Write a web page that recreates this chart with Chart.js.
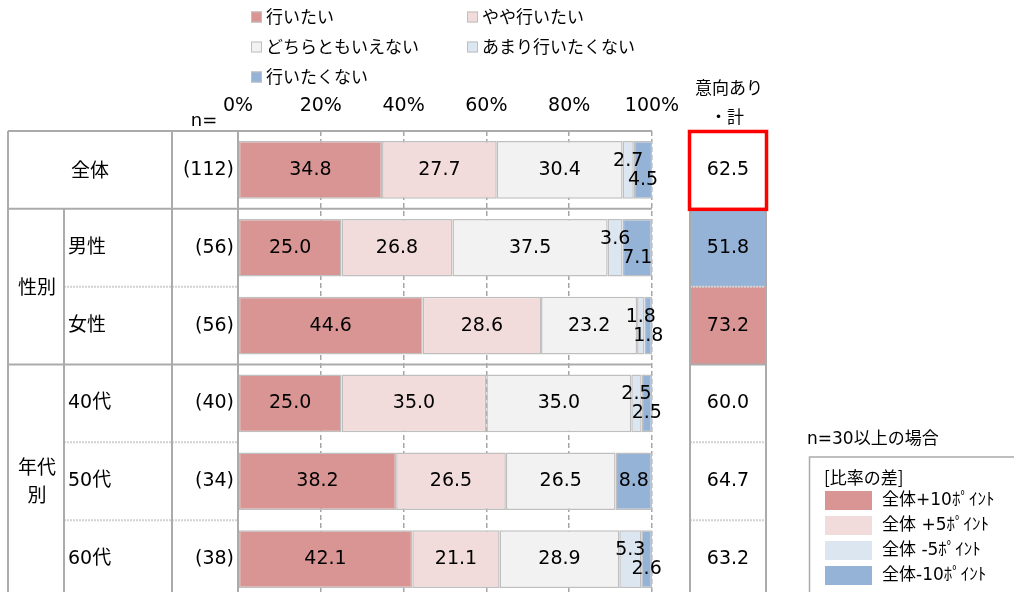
<!DOCTYPE html>
<html lang="ja">
<head>
  <meta charset="UTF-8" />
  <title>意向</title>
  <script src="https://cdn.jsdelivr.net/npm/chart.js"></script>
  <style>
    body { margin: 0; background: #fff; overflow: hidden; }
    #wrap { width: 1014px; height: 600px; }
  </style>
</head>
<body>
  <div id="wrap"><canvas id="chart" width="1014" height="600"></canvas></div>

  <script>
    // data
    const categories = ['全体', '男性', '女性', '40代', '50代', '60代'];
    const groups = [
      { label: ['性別'], from: 1, to: 2 },
      { label: ['年代', '別'], from: 3, to: 5 }
    ];
    const nCounts = [112, 56, 56, 40, 34, 38];
    const seriesNames = ['行いたい', 'やや行いたい', 'どちらともいえない', 'あまり行いたくない', '行いたくない'];
    const wantTo       = [34.8, 25.0, 44.6, 25.0, 38.2, 42.1];
    const somewhatWant = [27.7, 26.8, 28.6, 35.0, 26.5, 21.1];
    const neutral      = [30.4, 37.5, 23.2, 35.0, 26.5, 28.9];
    const notReally    = [2.7, 3.6, 1.8, 2.5, 0, 5.3];
    const notWant      = [4.5, 7.1, 1.8, 2.5, 8.8, 2.6];
    const intentTotal  = [62.5, 51.8, 73.2, 60.0, 64.7, 63.2];
    const tickValues = [0, 20, 40, 60, 80, 100];
    const diffLabels = ['全体+10ﾎﾟｲﾝﾄ', '全体 +5ﾎﾟｲﾝﾄ', '全体 -5ﾎﾟｲﾝﾄ', '全体-10ﾎﾟｲﾝﾄ'];

    // styles
    const seriesColors = ['#D99594', '#F2DCDB', '#F2F2F2', '#DCE6F1', '#95B3D7'];
    const diffColors = ['#D99594', '#F2DCDB', '#DCE6F1', '#95B3D7'];
    const NUM_FONT = '"DejaVu Sans", "Noto Sans CJK JP", sans-serif';
    const JP_FONT = '"Noto Sans CJK JP", sans-serif';
    const LINE = '#ABABAB';
    const LIGHT_LINE = '#D2D2D2';

    const seriesValues = [wantTo, somewhatWant, neutral, notReally, notWant];

    function cellColor(i) {
      if (i === 0 || nCounts[i] < 30) return '#FFFFFF';
      const d = intentTotal[i] - intentTotal[0];
      if (d >= 10) return diffColors[0];
      if (d >= 5) return diffColors[1];
      if (d <= -10) return diffColors[3];
      if (d <= -5) return diffColors[2];
      return '#FFFFFF';
    }

    function line(ctx, x1, y1, x2, y2, color, width, dash) {
      ctx.save();
      ctx.strokeStyle = color;
      ctx.lineWidth = width;
      ctx.setLineDash(dash || []);
      ctx.beginPath();
      ctx.moveTo(x1, y1);
      ctx.lineTo(x2, y2);
      ctx.stroke();
      ctx.restore();
    }

    function text(ctx, str, x, y, font, align) {
      ctx.font = font;
      ctx.fillStyle = '#000';
      ctx.textAlign = align || 'left';
      ctx.textBaseline = 'middle';
      ctx.fillText(str, x, y);
    }

    const valueLabels = {
      id: 'valueLabels',
      afterDatasetsDraw(chart) {
        const ctx = chart.ctx;
        ctx.save();
        chart.data.datasets.forEach((ds, k) => {
          chart.getDatasetMeta(k).data.forEach((bar, i) => {
            const v = ds.data[i];
            if (!v) return;
            const p = bar.getProps(['x', 'y', 'base'], true);
            let dy = 0;
            if (k === 3) dy = -9;
            if (k === 4 && notReally[i] > 0) dy = 10;
            text(ctx, v.toFixed(1), (p.x + p.base) / 2, p.y + dy, '19px ' + NUM_FONT, 'center');
          });
        });
        ctx.restore();
      }
    };

    const tableDecor = {
      id: 'tableDecor',
      afterDraw(chart) {
        const ctx = chart.ctx;
        const ys = chart.scales.y;
        const area = chart.chartArea;
        const rowH = ys.getPixelForValue(1) - ys.getPixelForValue(0);
        const top = i => ys.getPixelForValue(i) - rowH / 2;
        const mid = i => ys.getPixelForValue(i);
        const bottom = chart.height + 10;
        ctx.save();

        // top legend
        seriesNames.forEach((name, k) => {
          const x = k % 2 === 0 ? 251 : 467;
          const y = [17, 47, 77][Math.floor(k / 2)];
          ctx.fillStyle = seriesColors[k];
          ctx.fillRect(x, y - 5.5, 11, 11);
          ctx.strokeStyle = '#BFBFBF';
          ctx.lineWidth = 1;
          ctx.strokeRect(x + 0.5, y - 5, 10, 10);
          text(ctx, name, x + 15, y, '17px ' + JP_FONT);
        });

        // headers
        text(ctx, 'n=', 204, 121, '18px ' + NUM_FONT, 'center');
        text(ctx, '意向あり', 729, 88, '17px ' + JP_FONT, 'center');
        text(ctx, '・計', 727, 117, '17px ' + JP_FONT, 'center');

        // left table lines
        line(ctx, 8, area.top, area.right, area.top, LINE, 2);
        line(ctx, 8, top(1), area.right, top(1), LINE, 2);
        line(ctx, 8, top(3), area.right, top(3), LINE, 2);
        [2, 4, 5].forEach(i => line(ctx, 64, top(i), 172, top(i), LIGHT_LINE, 2, [2, 1]));
        [2, 4, 5].forEach(i => line(ctx, 172, top(i), area.left, top(i), LIGHT_LINE, 2, [2, 1]));
        line(ctx, 8, area.top, 8, bottom, LINE, 2);
        line(ctx, 64, top(1), 64, bottom, LINE, 2);
        line(ctx, 172, area.top, 172, bottom, LINE, 2);
        line(ctx, area.left, area.top, area.left, bottom, LINE, 2);

        // row labels
        text(ctx, categories[0], 90, mid(0), '19px ' + JP_FONT, 'center');
        for (let i = 1; i < categories.length; i++) {
          text(ctx, categories[i], 68, mid(i), '19px ' + NUM_FONT);
        }
        groups.forEach(g => {
          const c = (top(g.from) + top(g.to + 1)) / 2;
          g.label.forEach((s, j) => {
            text(ctx, s, 37, c + (j - (g.label.length - 1) / 2) * 28, '19px ' + JP_FONT, 'center');
          });
        });
        nCounts.forEach((n, i) => text(ctx, '(' + n + ')', 234, mid(i), '19px ' + NUM_FONT, 'right'));

        // right column: 意向あり・計
        const cx1 = 690, cx2 = 766;
        intentTotal.forEach((v, i) => {
          ctx.fillStyle = cellColor(i);
          ctx.fillRect(cx1, top(i), cx2 - cx1, rowH);
        });
        for (let i = 1; i < intentTotal.length; i++) {
          const light = i !== 3;
          line(ctx, cx1, top(i), cx2, top(i), light ? LIGHT_LINE : LINE, 2, light ? [2, 1] : []);
        }
        line(ctx, cx1, area.top, cx1, bottom, LINE, 2);
        line(ctx, cx2, area.top, cx2, bottom, LINE, 2);
        intentTotal.forEach((v, i) => text(ctx, v.toFixed(1), (cx1 + cx2) / 2, mid(i), '19px ' + NUM_FONT, 'center'));
        ctx.strokeStyle = '#FF0000';
        ctx.lineWidth = 3.5;
        ctx.setLineDash([]);
        ctx.strokeRect(cx1 - 0.5, top(0) + 0.5, cx2 - cx1 + 1, rowH);

        // diff legend
        text(ctx, 'n=30以上の場合', 807, 440, '17px ' + NUM_FONT);
        ctx.strokeStyle = LINE;
        ctx.lineWidth = 1.5;
        ctx.strokeRect(809.5, 457, 240, 200);
        text(ctx, '[比率の差]', 824, 478, '17px ' + JP_FONT);
        diffLabels.forEach((s, k) => {
          const y = 491 + k * 25;
          ctx.fillStyle = diffColors[k];
          ctx.fillRect(825, y, 47, 19);
          text(ctx, s, 882, y + 10, '17px ' + NUM_FONT);
        });

        ctx.restore();
      }
    };

    const ctx = document.getElementById('chart').getContext('2d');
    new Chart(ctx, {
      type: 'bar',
      data: {
        labels: categories,
        datasets: seriesNames.map((name, k) => ({
          label: name,
          data: seriesValues[k],
          backgroundColor: seriesColors[k],
          borderColor: '#BFBFBF',
          borderWidth: 1.5,
          borderSkipped: false,
          barPercentage: 0.74,
          categoryPercentage: 1
        }))
      },
      options: {
        indexAxis: 'y',
        responsive: false,
        animation: false,
        devicePixelRatio: 1,
        layout: { padding: { left: 238, right: 362, top: 0, bottom: 2 } },
        plugins: {
          legend: { display: false },
          tooltip: { enabled: false }
        },
        scales: {
          x: {
            position: 'top',
            stacked: true,
            min: 0,
            max: 100,
            afterBuildTicks(s) { s.ticks = tickValues.map(v => ({ value: v })); },
            afterFit(s) { s.height = 131; },
            ticks: {
              callback: v => v + '%',
              font: { family: NUM_FONT, size: 19 },
              color: '#000',
              padding: 14,
              maxRotation: 0,
              autoSkip: false
            },
            grid: { color: '#A6A6A6', lineWidth: 1.5, drawTicks: false },
            border: { display: false, dash: [5, 3] }
          },
          y: { stacked: true, display: false }
        }
      },
      plugins: [valueLabels, tableDecor]
    });
  </script>
</body>
</html>
